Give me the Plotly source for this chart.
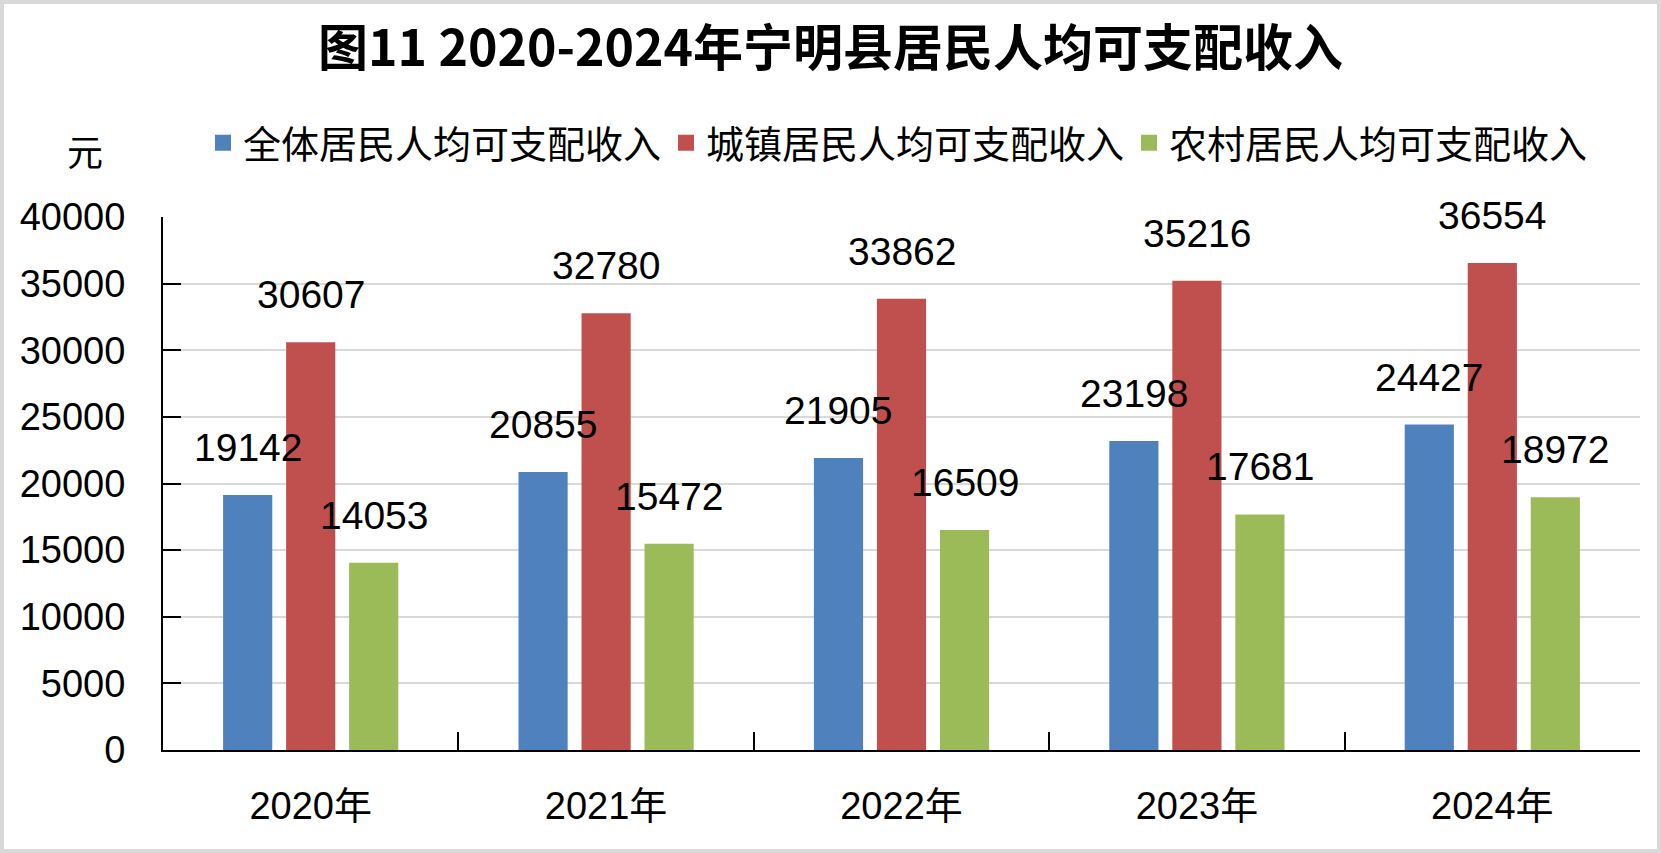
import plotly.graph_objects as go

years = ["2020年", "2021年", "2022年", "2023年", "2024年"]
series_names = ["全体居民人均可支配收入", "城镇居民人均可支配收入", "农村居民人均可支配收入"]
all_income = [19142, 20855, 21905, 23198, 24427]
urban_income = [30607, 32780, 33862, 35216, 36554]
rural_income = [14053, 15472, 16509, 17681, 18972]
colors = ["#4f81bd", "#c0504d", "#9bbb59"]

W, H = 1661, 853
L, R, T, B = 163, 21, 217, 103
pw = W - L - R
ph = H - T - B

latin = "Liberation Sans, Noto Sans CJK SC"
cjk = "Noto Sans CJK SC"

fig = go.Figure()
values = [all_income, urban_income, rural_income]
for name, vals, c in zip(series_names, values, colors):
    fig.add_trace(go.Bar(x=years, y=vals, name=name, marker_color=c,
                         marker_line_width=0, showlegend=False))
    # legend entry with a bigger square
    fig.add_trace(go.Scatter(x=[None], y=[None], mode="markers", name=name,
                             marker=dict(symbol="square", size=16, color=c)))

# data labels sit a bit above each bar
slot = pw / len(years) * (1 - 0.36) / 3
for i, vals in enumerate(values):
    for yr, v in zip(years, vals):
        fig.add_annotation(x=yr, y=v, text=str(v), showarrow=False,
                           xshift=(i - 1) * slot, yshift=24, yanchor="bottom",
                           font=dict(family=latin, size=39, color="#000000"))

fig.add_annotation(text="元", xref="paper", yref="paper",
                   x=(85 - L) / pw, y=(H - B - 150) / ph, showarrow=False,
                   xanchor="center", yanchor="middle",
                   font=dict(family=cjk, size=36, color="#000000"))

# grey outer frame
fig.add_shape(type="rect", xref="paper", yref="paper",
              x0=-L / pw + 0.001, x1=1 + R / pw - 0.001,
              y0=-B / ph + 0.003, y1=1 + T / ph - 0.003,
              line=dict(color="#d9d9d9", width=5), layer="below")

fig.update_layout(
    width=W, height=H,
    margin=dict(l=L, r=R, t=T, b=B),
    paper_bgcolor="white", plot_bgcolor="white",
    barmode="group", bargap=0.36, bargroupgap=0.22,
    title=dict(text="<b>图11 2020-2024年宁明县居民人均可支配收入</b>",
               x=0.5, xref="container", xanchor="center",
               y=1 - 48 / H, yref="container", yanchor="middle",
               font=dict(family=cjk, size=50, color="#000000")),
    legend=dict(orientation="h", x=(203 - L) / pw, y=(H - B - 143) / ph,
                xanchor="left", yanchor="middle",
                font=dict(family=cjk, size=38, color="#000000"),
                itemwidth=30, bgcolor="rgba(0,0,0,0)"),
    font=dict(family=latin, color="#000000"),
)

fig.update_xaxes(showline=True, linecolor="#000000", linewidth=2,
                 ticks="inside", tickson="boundaries", ticklen=18, tickwidth=2,
                 tickcolor="#000000", ticklabelstandoff=21,
                 tickfont=dict(family=latin, size=38, color="#000000"))
fig.update_yaxes(range=[0, 40000], dtick=5000, tickformat="d",
                 showline=True, linecolor="#000000",
                 linewidth=2, ticks="inside", ticklen=18, tickwidth=2, tickcolor="#000000",
                 showgrid=True, gridcolor="#d9d9d9", gridwidth=2, zeroline=False,
                 ticklabelstandoff=28,
                 tickfont=dict(family=latin, size=38, color="#000000"))

fig.write_html("out.html", config={"displayModeBar": False},
               post_script="document.body.style.margin='0';document.body.style.overflow='hidden';")
